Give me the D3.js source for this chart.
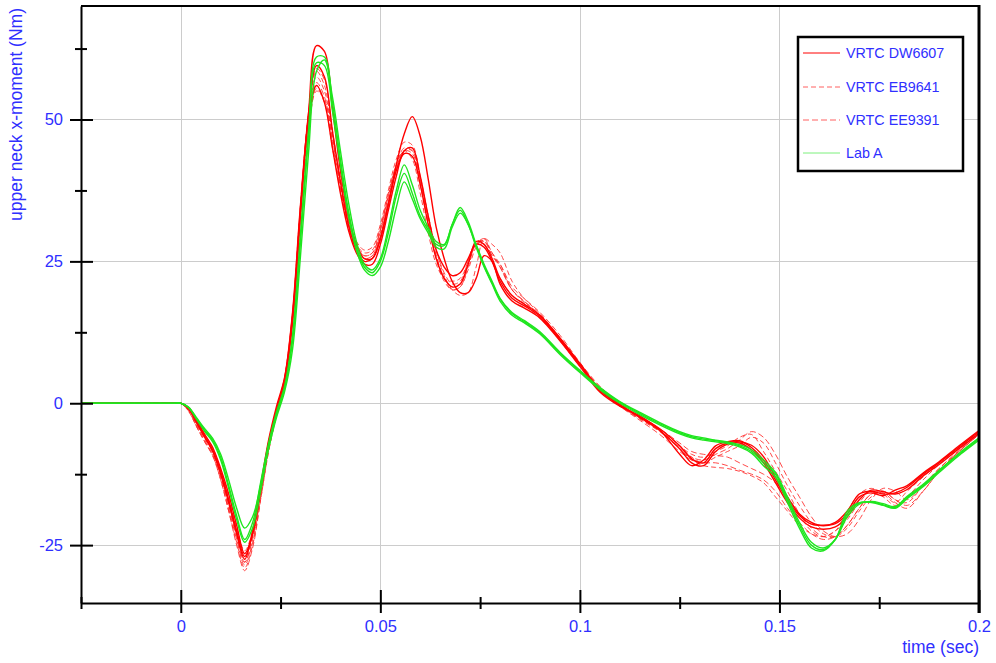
<!DOCTYPE html>
<html>
<head>
<meta charset="utf-8">
<script src="https://cdn.jsdelivr.net/npm/d3@7/dist/d3.min.js"></script>
<style>
  body { margin: 0; background: #ffffff; }
  text { font-family: Arial, "Liberation Sans", sans-serif; }
</style>
</head>
<body>
<svg id="chart" width="996" height="663"></svg>
<script>
// Sample times (s), shared by every run
const time = [-0.025, -0.002, 0, 0.002, 0.004, 0.006, 0.008, 0.010, 0.012, 0.014, 0.016, 0.018, 0.020,
  0.022, 0.024, 0.026, 0.028, 0.030, 0.032, 0.034, 0.036, 0.038, 0.040,
  0.042, 0.044, 0.046, 0.048, 0.050, 0.052, 0.054, 0.056, 0.058, 0.060,
  0.062, 0.064, 0.066, 0.068, 0.070, 0.072, 0.074, 0.076, 0.078, 0.080,
  0.083, 0.086, 0.090, 0.095, 0.100, 0.105, 0.110, 0.115, 0.120, 0.125,
  0.128, 0.131, 0.134, 0.137, 0.140, 0.143, 0.146, 0.149, 0.152, 0.155, 0.158, 0.161, 0.164, 0.167, 0.170, 0.173, 0.176, 0.179, 0.182,
  0.186, 0.190, 0.195, 0.200];

// Upper neck x-moment (Nm), VRTC DW6607 runs
const dw6607Run1 = [0, 0, 0, -0.8, -3.0, -5.5, -7.8, -11.5, -16, -21.5, -26.5, -23, -15.5,
  -7.5, -1.5, 3.5, 14, 33, 51, 63, 62, 52, 41,
  33, 28, 25.5, 25.5, 29, 35, 42, 47.5, 50.5, 47,
  39.5, 31, 25.5, 21.5, 19.5, 19.5, 22, 26, 25, 21,
  18, 16.8, 15, 11, 6.5, 2, -0.5, -2.2, -4.7, -9,
  -11, -10, -7.5, -6.8, -6.6, -7.8, -10, -13.5, -17, -19.8, -21.3, -21.5, -21.2, -19.5, -16.5, -15.8, -16.3, -15.3, -14.5,
  -12.3, -10.3, -7.5, -4.8];
const dw6607Run2 = [0, 0, 0, -1.0, -3.5, -6, -8.5, -12.5, -17.5, -23, -27.5, -22.5, -14.5,
  -6.5, -0.5, 4.5, 16, 35, 50, 56, 53, 45, 37,
  30.5, 26.5, 24.5, 24.5, 28, 34, 40, 44.5, 45, 40,
  33, 27, 24, 22.5, 23, 25.5, 28, 27.5, 25, 21.5,
  18.5, 17.2, 15.3, 11.2, 6.8, 2.2, -0.3, -2.4, -4.5, -7.5,
  -9.8, -10.5, -8, -7, -6.8, -7.4, -9.4, -13, -16.5, -19.5, -21, -21.6, -21, -19, -16, -15.5, -16, -15.8, -14.8,
  -12.5, -10.5, -7.7, -5];
const dw6607Run3 = [0, 0, 0, -0.9, -3.2, -5.8, -8.2, -12, -17, -22.5, -27, -23, -15,
  -7, -1, 4, 15, 34, 51, 59.5, 57.5, 48, 39,
  31.5, 27, 25, 25.5, 29, 35, 41, 44, 43.5, 38.5,
  31.5, 25.5, 22, 20.5, 21, 24.5, 28.5, 28, 25.5, 22,
  19, 17.5, 15.5, 11.5, 7, 2.5, -0.2, -2.5, -4.8, -8,
  -10.5, -11, -8.5, -7.2, -7, -8.2, -10.5, -14, -17.5, -20.2, -21.8, -22.2, -21.8, -20, -17, -15.3, -15.6, -16, -15.2,
  -12.8, -10.8, -8, -5.3];

// VRTC EB9641 runs
const eb9641Run1 = [0, 0, 0, -1.2, -3.8, -6.2, -8.5, -12.5, -17.5, -23, -28, -24, -16,
  -7.5, -1, 4.5, 16, 35, 50, 57.5, 55, 47, 39,
  32, 28, 26.5, 27, 31, 37, 42, 44.5, 43, 37,
  30, 24.5, 22, 21.5, 22, 25, 28.5, 28, 25, 22,
  19, 17.5, 15, 11, 6.5, 2.5, -0.5, -2.5, -4.5, -7.5,
  -9, -9.5, -8.5, -7.5, -6, -5.5, -8.5, -12, -15.5, -19.5, -22.5, -23.5, -22.5, -19, -16, -15, -16, -17.5, -15.5,
  -13, -10.5, -7.8, -5.2];
const eb9641Run2 = [0, 0, 0, -1.5, -4.2, -6.8, -9.2, -13.5, -19, -24.5, -29, -25, -17,
  -8.5, -2, 4, 15, 33, 48, 55, 53.5, 46.5, 38.5,
  32, 28.5, 27, 27.5, 31.5, 37.5, 43, 46, 45.5, 40,
  33, 27, 22.5, 20, 19, 19.5, 24, 29, 28, 26.5,
  21.5, 18.5, 15.8, 11.5, 7, 2.8, -0.3, -2.8, -5, -8,
  -10, -11, -11.3, -11.5, -12, -12.8, -14, -16.5, -19, -21.5, -23, -23.5, -22.5, -20.5, -17.5, -15.5, -16.5, -18, -16.5,
  -13.5, -10.8, -8, -5.5];
const eb9641Run3 = [0, 0, 0, -0.8, -3.0, -5.5, -7.8, -11.8, -16.5, -22, -26, -22.5, -15,
  -7, -1, 4, 15.5, 34.5, 50.5, 58.5, 56, 47.5, 39.5,
  32.5, 28, 26, 26.5, 30.5, 36.5, 41.5, 44, 43.5, 38.5,
  31.5, 25.5, 21.5, 20, 20.5, 23.5, 27.5, 29, 26.5, 24.5,
  20, 17.8, 15.5, 11.5, 7, 2.5, -0.5, -2.7, -4.8, -7.5,
  -9.5, -10.5, -9.5, -8.5, -7.5, -6, -7, -10.5, -14.5, -18, -21, -23, -23.5, -22, -19, -16.5, -15.5, -17, -17.5,
  -14.5, -11.5, -8.5, -5.5];

// VRTC EE9391 runs
const ee9391Run1 = [0, 0, 0, -1.3, -4, -6.5, -9, -13, -18.5, -24, -28.5, -24.5, -16.5,
  -8, -1.5, 4.5, 15.5, 34, 49.5, 56.5, 54, 46, 38,
  31, 27.5, 26, 26.5, 30.5, 36.5, 42, 45, 44.5, 39.5,
  32.5, 26, 22, 20.5, 21, 24.5, 28, 29, 26, 24.5,
  20.5, 18.5, 16, 12, 7.2, 3, 0, -2.5, -4.5, -7,
  -8.5, -9, -9.2, -9.5, -10.5, -11.5, -12.5, -14, -16.5, -19.5, -22, -23.5, -23.5, -21.5, -18.5, -16, -15.5, -17, -18,
  -15.5, -12, -8.5, -5.5];
const ee9391Run2 = [0, 0, 0, -1.1, -3.6, -6, -8.6, -12.5, -18, -23.5, -28, -23.5, -15.5,
  -7.5, -1, 4.5, 16, 35, 51, 59, 57, 48, 39.5,
  32, 27.5, 25.5, 26, 29.5, 35.5, 41, 44.5, 44.5, 39.5,
  33, 27, 23, 21, 21.5, 25, 28.5, 28.5, 26.5, 24,
  20, 18, 15.5, 11.5, 7, 2.5, -0.5, -3, -5.5, -8.5,
  -10, -10.5, -10.5, -11, -11.8, -12.5, -13.5, -15.5, -18.5, -21, -23, -24, -23.5, -21.5, -18.5, -16, -15.8, -17.5, -18.5,
  -15.5, -12, -8.5, -5.5];
const ee9391Run3 = [0, 0, 0, -1.4, -4.2, -6.8, -9.3, -13.5, -19, -25, -29.5, -25.5, -17,
  -8.5, -2, 4, 14.5, 33, 48, 55.5, 53, 45, 37.5,
  31, 27, 25.5, 26, 30, 36, 41.5, 44.5, 44, 39,
  32, 26, 22, 20, 20.5, 24, 28, 28.5, 26, 24,
  20, 18, 15.5, 11.2, 6.8, 2.6, -0.4, -2.6, -4.8, -7.8,
  -9.5, -10, -9, -8, -6.5, -5, -6, -9, -13, -16.5, -20, -22.5, -23.5, -23, -20.5, -17, -15, -15.5, -17,
  -14.5, -11.5, -8.3, -5.3];

// Lab A runs
const labARun1 = [0, 0, 0, -0.8, -2.8, -4.8, -6.5, -9.5, -14.5, -19.8, -24, -21, -14,
  -7, -1.5, 3, 12, 30, 48, 61, 61, 53, 43,
  34, 27.5, 24, 23, 25, 30, 36.5, 40.5, 37, 33,
  30.5, 28, 27.8, 31.5, 34, 31.5, 27.8, 24.2, 21.2, 18.4,
  15.8, 14.4, 12.4, 8.8, 5.6, 2.6, 0.2, -1.8, -3.6, -5.2,
  -5.9, -6.3, -6.6, -6.9, -7.5, -8.5, -10.5, -12.5, -17, -21.5, -25, -25.8, -24, -19.5, -17.6, -17.4, -17.9, -18.4, -16.6,
  -14.5, -12, -9, -6.3];
const labARun2 = [0, 0, 0, -0.7, -2.6, -4.5, -6.2, -9, -13.5, -18.5, -22, -20, -14.5,
  -8, -2.5, 2, 9.5, 26, 44, 58.5, 60.5, 54, 44.5,
  35.5, 28.5, 24.5, 23.5, 25.5, 31, 37.5, 42, 38.5, 34,
  31, 28.5, 28, 31.5, 34.5, 32, 28, 24.5, 21.5, 18.5,
  16, 14.6, 12.6, 9, 5.8, 2.8, 0.3, -1.6, -3.4, -5,
  -5.7, -6.1, -6.5, -6.8, -7.3, -8.2, -10, -12.2, -16.5, -21, -24.5, -25.5, -24, -20, -17.8, -17.3, -17.7, -18.2, -16.4,
  -14.3, -11.8, -8.8, -6.1];
const labARun3 = [0, 0, 0, -0.8, -2.9, -5, -6.8, -10, -15, -20.5, -24.5, -22, -15.5,
  -8, -2, 2.5, 11, 28.5, 46.5, 60, 59.5, 51.5, 42,
  33, 27, 23.5, 22.5, 24, 28.5, 34.5, 39, 36, 32.5,
  30, 27.5, 27.2, 31, 33.5, 31.5, 27.5, 24, 21, 18,
  15.5, 14.2, 12.2, 8.6, 5.4, 2.4, 0, -2, -3.8, -5.4,
  -6.1, -6.5, -6.8, -7.1, -7.7, -8.8, -11, -13, -17.5, -22, -25.5, -26, -24, -19, -17.5, -17.5, -18, -18.5, -16.8,
  -14.7, -12.2, -9.2, -6.5];

// Axis ticks
const xMajorTicks = [0, 0.05, 0.1, 0.15, 0.2];
const xMinorTicks = [-0.025, 0.025, 0.075, 0.125, 0.175];
const yMajorTicks = [-25, 0, 25, 50];
const yMinorTicks = [-12.5, 12.5, 37.5, 62.5];

// Series groups: legend label plus the runs belonging to it
const seriesNames = ["VRTC DW6607", "VRTC EB9641", "VRTC EE9391", "Lab A"];
const seriesRuns = [
  [dw6607Run1, dw6607Run2, dw6607Run3],
  [eb9641Run1, eb9641Run2, eb9641Run3],
  [ee9391Run1, ee9391Run2, ee9391Run3],
  [labARun1, labARun2, labARun3]
];
const seriesStyle = [
  { color: "#ff0000", width: 1.4, dash: null, opacity: 1 },
  { color: "#ff2a2a", width: 1, dash: "5,3", opacity: 0.85 },
  { color: "#ff2a2a", width: 1, dash: "6,3", opacity: 0.85 },
  { color: "#1ee61e", width: 1.4, dash: null, opacity: 1 }
];

const blue = "#2f2fff";
const svg = d3.select("#chart");
const plotLeft = 81, plotRight = 979, plotTop = 6, plotBottom = 603;

const x = d3.scaleLinear().domain([-0.025, 0.2]).range([plotLeft, plotRight]);
const y = d3.scaleLinear().domain([-35.2, 70]).range([plotBottom, plotTop]);

// grid
const grid = svg.append("g").attr("stroke", "#cccccc").attr("stroke-width", 1);
grid.selectAll("line.gx").data(xMajorTicks.filter(d => d < 0.2)).join("line")
  .attr("x1", d => Math.round(x(d)) + 0.5).attr("x2", d => Math.round(x(d)) + 0.5)
  .attr("y1", plotTop).attr("y2", plotBottom);
grid.selectAll("line.gy").data(yMajorTicks).join("line")
  .attr("y1", d => Math.round(y(d)) + 0.5).attr("y2", d => Math.round(y(d)) + 0.5)
  .attr("x1", plotLeft).attr("x2", plotRight);

// curves
svg.append("clipPath").attr("id", "plotClip").append("rect")
  .attr("x", plotLeft).attr("y", plotTop).attr("width", plotRight - plotLeft).attr("height", plotBottom - plotTop);
const line = d3.line()
  .x((d, i) => x(time[i]))
  .y(d => y(d))
  .curve(d3.curveCatmullRom.alpha(0.5));
const curves = svg.append("g").attr("clip-path", "url(#plotClip)").attr("fill", "none");
[1, 2, 0, 3].forEach(k => {
  const st = seriesStyle[k];
  curves.append("g").selectAll("path").data(seriesRuns[k]).join("path")
    .attr("d", line)
    .attr("stroke", st.color)
    .attr("stroke-width", st.width)
    .attr("stroke-dasharray", st.dash)
    .attr("stroke-opacity", st.opacity)
    .attr("stroke-linejoin", "round");
});

// axes
function styleAxis(g, w) {
  g.selectAll(".domain").attr("stroke", "#000").attr("stroke-width", w);
  g.selectAll(".tick line").attr("stroke", "#000").attr("stroke-width", 2);
  g.selectAll(".tick text").attr("fill", blue).attr("font-size", 16.5)
    .attr("font-family", "Arial, 'Liberation Sans', sans-serif");
}
const yl = svg.append("g").attr("transform", `translate(${plotLeft},0)`)
  .call(d3.axisLeft(y).tickValues(yMajorTicks).tickSize(11).tickSizeOuter(0).tickPadding(7).tickFormat(d => String(d)));
styleAxis(yl, 2);
const yr = svg.append("g").attr("transform", `translate(${plotLeft},0)`)
  .call(d3.axisRight(y).tickValues(yMajorTicks).tickSize(12).tickSizeOuter(0).tickFormat(""));
yr.select(".domain").remove(); styleAxis(yr, 2);
const ylm = svg.append("g").attr("transform", `translate(${plotLeft},0)`)
  .call(d3.axisLeft(y).tickValues(yMinorTicks).tickSize(6).tickSizeOuter(0).tickFormat(""));
ylm.select(".domain").remove(); styleAxis(ylm, 2);
const yrm = svg.append("g").attr("transform", `translate(${plotLeft},0)`)
  .call(d3.axisRight(y).tickValues(yMinorTicks).tickSize(6).tickSizeOuter(0).tickFormat(""));
yrm.select(".domain").remove(); styleAxis(yrm, 2);

const xb = svg.append("g").attr("transform", `translate(0,${plotBottom})`)
  .call(d3.axisBottom(x).tickValues(xMajorTicks).tickSize(10).tickSizeOuter(0).tickPadding(7).tickFormat(d3.format("~g")));
styleAxis(xb, 2);
const xt = svg.append("g").attr("transform", `translate(0,${plotBottom})`)
  .call(d3.axisTop(x).tickValues(xMajorTicks).tickSize(13).tickSizeOuter(0).tickFormat(""));
xt.select(".domain").remove(); styleAxis(xt, 2);
const xbm = svg.append("g").attr("transform", `translate(0,${plotBottom})`)
  .call(d3.axisBottom(x).tickValues(xMinorTicks).tickSize(6).tickSizeOuter(0).tickFormat(""));
xbm.select(".domain").remove(); styleAxis(xbm, 2);
const xtm = svg.append("g").attr("transform", `translate(0,${plotBottom})`)
  .call(d3.axisTop(x).tickValues(xMinorTicks).tickSize(6).tickSizeOuter(0).tickFormat(""));
xtm.select(".domain").remove(); styleAxis(xtm, 2);

// frame: top and right edges
svg.append("line").attr("x1", plotLeft).attr("x2", plotRight).attr("y1", plotTop).attr("y2", plotTop)
  .attr("stroke", "#000").attr("stroke-width", 2);
svg.append("line").attr("x1", plotRight).attr("x2", plotRight).attr("y1", plotTop - 1).attr("y2", plotBottom + 10)
  .attr("stroke", "#000").attr("stroke-width", 3);

// axis titles
svg.append("text").attr("x", plotRight).attr("y", 653).attr("text-anchor", "end")
  .attr("fill", blue).attr("font-size", 17.5).text("time (sec)");
svg.append("text").attr("transform", "translate(22,8) rotate(-90)").attr("text-anchor", "end")
  .attr("fill", blue).attr("font-size", 17.5).text("upper neck x-moment (Nm)");

// legend
const lg = svg.append("g");
lg.append("rect").attr("x", 798).attr("y", 37).attr("width", 165).attr("height", 134)
  .attr("fill", "#fff").attr("stroke", "#000").attr("stroke-width", 2.5);
const rowY = [53, 87, 120, 153];
seriesNames.forEach((name, k) => {
  const st = seriesStyle[k];
  lg.append("line").attr("x1", 803).attr("x2", 840).attr("y1", rowY[k]).attr("y2", rowY[k])
    .attr("stroke", k === 3 ? "#7cf07c" : (k === 0 ? "#ff0000" : "#ff6060"))
    .attr("stroke-width", 1).attr("stroke-dasharray", st.dash);
  lg.append("text").attr("x", 846).attr("y", rowY[k] + 5).attr("fill", blue)
    .attr("font-size", 14.3).text(name);
});
</script>
</body>
</html>
